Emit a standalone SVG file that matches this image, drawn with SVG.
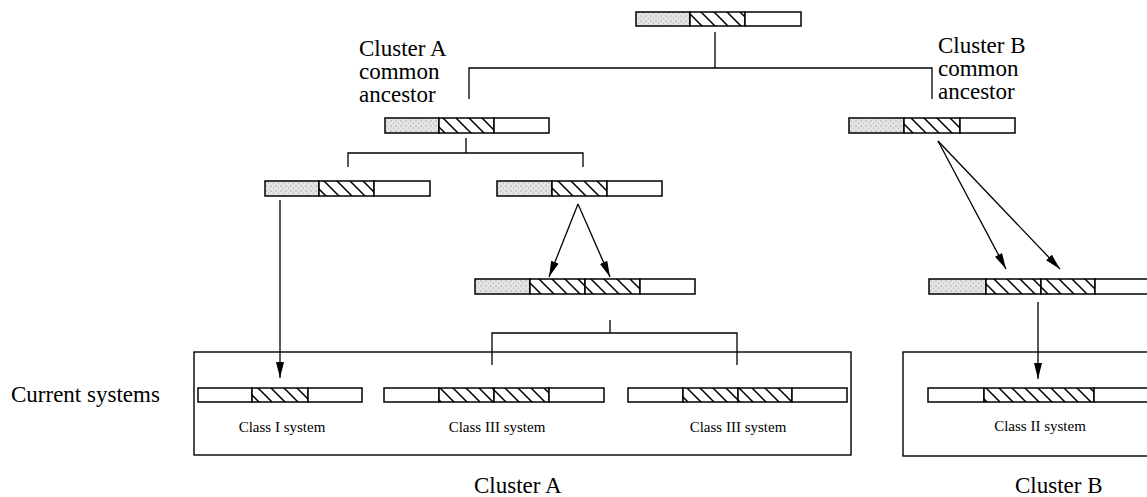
<svg xmlns="http://www.w3.org/2000/svg" width="1147" height="497" viewBox="0 0 1147 497">
<defs>
<pattern id="stip" patternUnits="userSpaceOnUse" width="5" height="5">
<rect width="5" height="5" fill="#e4e4e4"/>
<circle cx="1" cy="1" r="0.7" fill="#9a9a9a"/>
<circle cx="3.5" cy="3.2" r="0.6" fill="#b0b0b0"/>
</pattern>
<pattern id="hatch" patternUnits="userSpaceOnUse" width="13" height="13">
<rect width="13" height="13" fill="#fff"/>
<path d="M-1,-1 L14,14 M-1,12 L1,14 M12,-1 L14,1" stroke="#000" stroke-width="1.5"/>
</pattern>
<marker id="ah" viewBox="0 0 16 8" refX="16" refY="4" markerWidth="16" markerHeight="8" markerUnits="userSpaceOnUse" orient="auto">
<path d="M0,0 L16,4 L0,8 z" fill="#000"/>
</marker>
</defs>
<style>
.s{fill:url(#stip);stroke:#000;stroke-width:1.5}
.h{fill:url(#hatch);stroke:#000;stroke-width:1.5}
.w{fill:#fff;stroke:#000;stroke-width:1.5}
.box{fill:none;stroke:#000;stroke-width:1.4}
.ln{fill:none;stroke:#000;stroke-width:1.3}
.big{font-family:"Liberation Serif","Times New Roman",serif;font-size:23px;fill:#000}
.sm{font-family:"Liberation Serif","Times New Roman",serif;font-size:15px;fill:#000;text-anchor:middle}
</style>

<g id="box-cluster-a"><rect class="box" x="194" y="352" width="657" height="103"/></g>
<g id="box-cluster-b"><rect class="box" x="903" y="352" width="260" height="104"/></g>

<g id="root">
<rect class="s" x="636" y="12" width="54" height="14"/>
<rect class="h" x="690" y="12" width="55" height="14"/>
<rect class="w" x="745" y="12" width="56" height="14"/>
</g>

<g id="ancestor-a">
<rect class="s" x="385" y="118" width="54" height="15"/>
<rect class="h" x="439" y="118" width="55" height="15"/>
<rect class="w" x="494" y="118" width="55" height="15"/>
<text class="big" x="359" y="56">Cluster A</text>
<text class="big" x="359" y="79">common</text>
<text class="big" x="359" y="102">ancestor</text>
</g>

<g id="ancestor-b">
<rect class="s" x="849" y="118" width="55" height="15"/>
<rect class="h" x="904" y="118" width="56" height="15"/>
<rect class="w" x="960" y="118" width="55" height="15"/>
<text class="big" x="938" y="53">Cluster B</text>
<text class="big" x="938" y="76">common</text>
<text class="big" x="938" y="99">ancestor</text>
</g>

<g id="a-left">
<rect class="s" x="265" y="181" width="54" height="15"/>
<rect class="h" x="319" y="181" width="55" height="15"/>
<rect class="w" x="374" y="181" width="56" height="15"/>
</g>

<g id="a-right">
<rect class="s" x="497" y="181" width="55" height="15"/>
<rect class="h" x="552" y="181" width="55" height="15"/>
<rect class="w" x="607" y="181" width="55" height="15"/>
</g>

<g id="a-dup">
<rect class="s" x="475" y="279" width="55" height="15"/>
<rect class="h" x="530" y="279" width="55" height="15"/>
<rect class="h" x="585" y="279" width="55" height="15"/>
<rect class="w" x="640" y="279" width="55" height="15"/>
</g>

<g id="b-dup">
<rect class="s" x="929" y="279" width="57" height="15"/>
<rect class="h" x="986" y="279" width="55" height="15"/>
<rect class="h" x="1041" y="279" width="54" height="15"/>
<rect class="w" x="1095" y="279" width="60" height="15"/>
</g>

<g id="class-i">
<rect class="w" x="198" y="388" width="54" height="14"/>
<rect class="h" x="252" y="388" width="56" height="14"/>
<rect class="w" x="308" y="388" width="54" height="14"/>
<text class="sm" x="282" y="432">Class I system</text>
</g>

<g id="class-iii-1">
<rect class="w" x="384" y="388" width="55" height="14"/>
<rect class="h" x="439" y="388" width="55" height="14"/>
<rect class="h" x="494" y="388" width="55" height="14"/>
<rect class="w" x="549" y="388" width="55" height="14"/>
<text class="sm" x="497" y="432">Class III system</text>
</g>

<g id="class-iii-2">
<rect class="w" x="628" y="388" width="55" height="14"/>
<rect class="h" x="683" y="388" width="55" height="14"/>
<rect class="h" x="738" y="388" width="54" height="14"/>
<rect class="w" x="792" y="388" width="55" height="14"/>
<text class="sm" x="738" y="432">Class III system</text>
</g>

<g id="class-ii">
<rect class="w" x="928" y="388" width="56" height="14"/>
<rect class="h" x="984" y="388" width="110" height="14"/>
<rect class="w" x="1094" y="388" width="60" height="14"/>
<text class="sm" x="1040" y="431">Class II system</text>
</g>

<g id="labels">
<text class="big" x="11" y="402">Current systems</text>
<text class="big" x="474" y="493">Cluster A</text>
<text class="big" x="1015" y="493">Cluster B</text>
</g>

<g id="connectors">
<path class="ln" d="M715,32 V68 M469,99 V68 H932 V99"/>
<path class="ln" d="M466,138 V153 M348,167 V153 H583 V167"/>
<path class="ln" d="M610,320 V333 M492,365 V333 H737 V365"/>
<line class="ln" x1="280" y1="200" x2="280" y2="378" marker-end="url(#ah)"/>
<line class="ln" x1="1038" y1="302" x2="1038" y2="379" marker-end="url(#ah)"/>
<line class="ln" x1="578" y1="204" x2="549" y2="277" marker-end="url(#ah)"/>
<line class="ln" x1="578" y1="204" x2="610" y2="277" marker-end="url(#ah)"/>
<line class="ln" x1="938" y1="141" x2="1006" y2="269" marker-end="url(#ah)"/>
<line class="ln" x1="938" y1="141" x2="1060" y2="269" marker-end="url(#ah)"/>
</g>
</svg>
